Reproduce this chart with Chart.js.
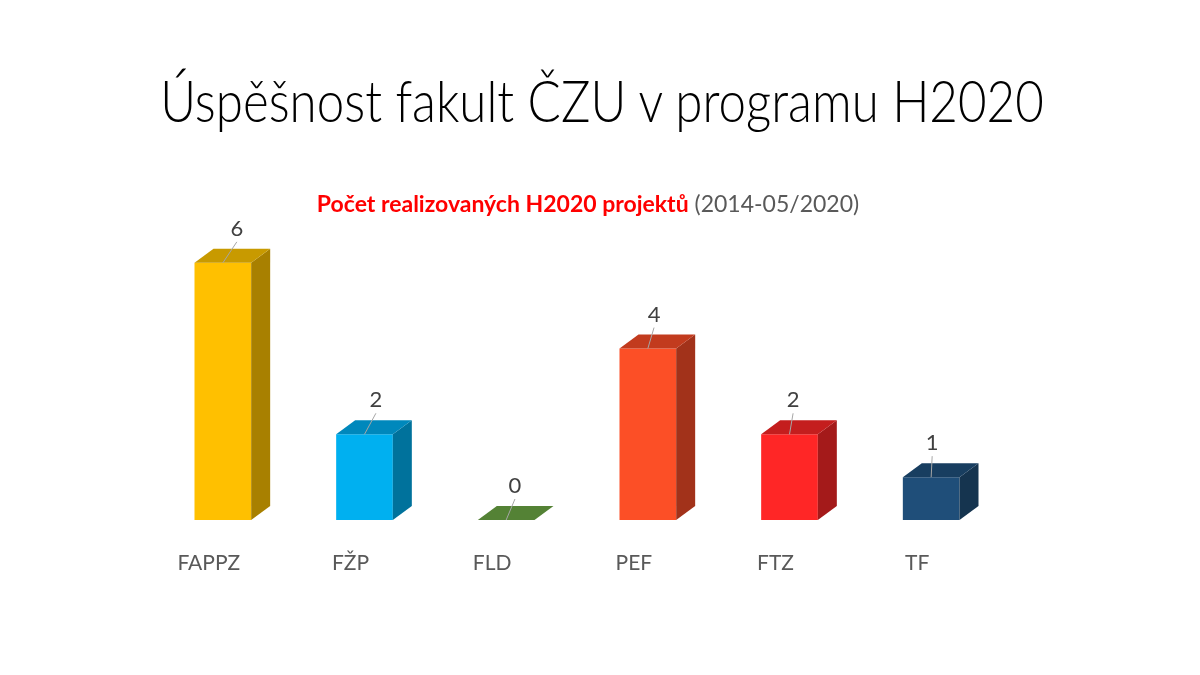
<!DOCTYPE html>
<html>
<head>
<meta charset="utf-8">
<script src="https://cdn.jsdelivr.net/npm/chart.js@4"></script>
<style>
  html, body { margin: 0; padding: 0; background: #fff; }
  #wrap { position: relative; width: 1200px; height: 675px; overflow: hidden; font-family: Lato, "Open Sans", sans-serif; }
  #title { position: absolute; left: 0; width: 1204px; top: 65px; text-align: center; font-size: 58px; font-weight: 300; color: #000; white-space: nowrap; transform: scaleX(0.85); transform-origin: 602px 0; }
  #subtitle { position: absolute; left: 0; width: 1176px; top: 189px; text-align: center; font-size: 23px; white-space: nowrap; }
  #subtitle b { color: #ff0000; }
  #subtitle span { color: #595959; }
  #chartBox { position: absolute; left: 0; top: 0; width: 1200px; height: 675px; }
</style>
</head>
<body>
<div id="wrap">
  <div id="chartBox"><canvas id="barChart"></canvas></div>
  <div id="title">Úspěšnost fakult ČZU v programu H2020</div>
  <div id="subtitle"><b>Počet realizovaných H2020 projektů</b> <span>(2014-05/2020)</span></div>
</div>
<script>
const categories = ["FAPPZ", "FŽP", "FLD", "PEF", "FTZ", "TF"];
const projectCounts = [6, 2, 0, 4, 2, 1];

// barvy: přední stěna, bok, vršek
const frontColors = ["#ffc000", "#00b0f0", "#548235", "#fc4f26", "#ff2626", "#1f4e79"];
const sideColors  = ["#a88000", "#00729c", "#3d5f26", "#a2321a", "#a41a1a", "#15344f"];
const topColors   = ["#c89a00", "#0088bc", "#548235", "#c23b1e", "#c41e1e", "#183e60"];

const DEPTH_X = 19, DEPTH_Y = 14;

// kresli boky a vršky sloupců + popisky hodnot
const cube3d = {
  id: "cube3d",
  afterDatasetsDraw(chart) {
    const ctx = chart.ctx;
    const meta = chart.getDatasetMeta(0);
    meta.data.forEach((bar, i) => {
      const w = bar.width;
      const left = bar.x - w / 2, right = bar.x + w / 2;
      const top = bar.y, base = bar.base;

      ctx.save();
      // bok
      if (base - top > 0.5) {
        ctx.fillStyle = sideColors[i];
        ctx.beginPath();
        ctx.moveTo(right, top);
        ctx.lineTo(right + DEPTH_X, top - DEPTH_Y);
        ctx.lineTo(right + DEPTH_X, base - DEPTH_Y);
        ctx.lineTo(right, base);
        ctx.closePath();
        ctx.fill();
      }
      // vršek
      ctx.fillStyle = topColors[i];
      ctx.beginPath();
      ctx.moveTo(left, top);
      ctx.lineTo(left + DEPTH_X, top - DEPTH_Y);
      ctx.lineTo(right + DEPTH_X, top - DEPTH_Y);
      ctx.lineTo(right, top);
      ctx.closePath();
      ctx.fill();

      // popisek hodnoty s vodicí čárou
      const lx = bar.x + 14 - 2.6 * i;
      const ly = top - 34;
      ctx.strokeStyle = "#a6a6a6";
      ctx.lineWidth = 1;
      ctx.beginPath();
      ctx.moveTo(lx, ly + 13);
      ctx.lineTo(bar.x, top);
      ctx.stroke();

      ctx.fillStyle = "#404040";
      ctx.font = "22px Lato, 'Open Sans', sans-serif";
      ctx.textAlign = "center";
      ctx.textBaseline = "middle";
      ctx.fillText(String(projectCounts[i]), lx, ly);
      ctx.restore();
    });
  }
};

new Chart(document.getElementById("barChart"), {
  type: "bar",
  data: {
    labels: categories,
    datasets: [{
      data: projectCounts,
      backgroundColor: frontColors,
      borderWidth: 0,
      barPercentage: 0.4,
      categoryPercentage: 1
    }]
  },
  options: {
    responsive: true,
    maintainAspectRatio: false,
    animation: false,
    layout: { padding: { left: 152, right: 198, top: 220, bottom: 0 } },
    plugins: {
      legend: { display: false },
      tooltip: { enabled: false }
    },
    scales: {
      x: {
        grid: { display: false, drawTicks: false },
        border: { display: false },
        ticks: {
          color: "#595959",
          font: { family: "Lato, 'Open Sans', sans-serif", size: 21 },
          padding: 31,
          labelOffset: -14
        },
        afterFit(scale) { scale.height = 155; }
      },
      y: {
        display: false,
        min: 0,
        max: 7
      }
    }
  },
  plugins: [cube3d]
});
</script>
</body>
</html>
